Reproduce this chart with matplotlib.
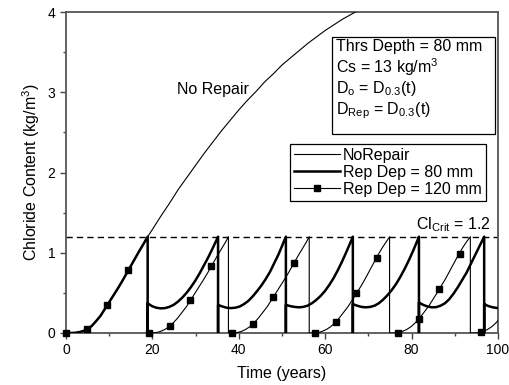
import matplotlib
matplotlib.use("Agg")
import matplotlib.pyplot as plt
from matplotlib.lines import Line2D
from matplotlib.patches import Rectangle
from matplotlib.ticker import MultipleLocator

plt.rcParams['font.family'] = ['Liberation Sans', 'DejaVu Sans']
plt.rcParams['mathtext.fontset'] = 'custom'
plt.rcParams['mathtext.rm'] = 'Liberation Sans'
plt.rcParams['mathtext.it'] = 'Liberation Sans:italic'

# ---- chloride content at the threshold depth (kg/m^3) vs time (years) ----
norepair_time = [0, 1, 2, 3, 4, 5, 6, 7, 8, 9, 10, 11, 12, 13, 14, 15, 16, 17, 18, 18.9,
                 20, 22, 24, 26, 28, 30, 32, 34, 36, 38, 40, 42, 44, 46, 48, 50,
                 52, 54, 56, 58, 60, 62, 64, 66, 68]
norepair_chloride = [0, 0, 0.002, 0.01, 0.025, 0.048, 0.09, 0.15, 0.215, 0.30, 0.385, 0.47,
                     0.555, 0.645, 0.74, 0.835, 0.93, 1.025, 1.115, 1.2,
                     1.29, 1.46, 1.62, 1.79, 1.94, 2.09, 2.24, 2.38, 2.52, 2.65, 2.78, 2.90,
                     3.01, 3.13, 3.23, 3.34, 3.43, 3.52, 3.61, 3.69, 3.77, 3.84, 3.91, 3.97, 4.03]

# repair depth 80 mm: repairs at 18.9, 35.2, 50.9, 66.4, 81.7, 96.8 years
rep80_time = [
    0, 1, 2, 3, 4, 5, 6, 7, 8, 9, 10, 11, 12, 13, 14, 15, 16, 17, 18, 18.9, 18.9,
    18.9, 19.9, 20.9, 21.9, 22.9, 23.9, 24.9, 25.9, 26.9, 27.9, 28.9, 29.9, 30.9, 31.9, 32.9, 33.9, 34.9, 35.2, 35.2,
    35.2, 36.2, 37.2, 38.2, 39.2, 40.2, 41.2, 42.2, 43.2, 44.2, 45.2, 46.2, 47.2, 48.2, 49.2, 50.2, 50.9, 50.9,
    50.9, 51.9, 52.9, 53.9, 54.9, 55.9, 56.9, 57.9, 58.9, 59.9, 60.9, 61.9, 62.9, 63.9, 64.9, 65.9, 66.4, 66.4,
    66.4, 67.4, 68.4, 69.4, 70.4, 71.4, 72.4, 73.4, 74.4, 75.4, 76.4, 77.4, 78.4, 79.4, 80.4, 81.4, 81.7, 81.7,
    81.7, 82.7, 83.7, 84.7, 85.7, 86.7, 87.7, 88.7, 89.7, 90.7, 91.7, 92.7, 93.7, 94.7, 95.7, 96.7, 96.8, 96.8,
    96.8, 97.8, 98.8, 100]
rep80_chloride = [
    0, 0, 0.002, 0.01, 0.025, 0.048, 0.09, 0.15, 0.215, 0.30, 0.385, 0.47, 0.555, 0.645, 0.74, 0.835, 0.93, 1.025, 1.115, 1.2, 0,
    0.37, 0.335, 0.315, 0.307, 0.31, 0.325, 0.35, 0.39, 0.44, 0.50, 0.57, 0.65, 0.74, 0.84, 0.94, 1.05, 1.165, 1.2, 0,
    0.35, 0.33, 0.315, 0.31, 0.315, 0.33, 0.36, 0.40, 0.455, 0.52, 0.59, 0.67, 0.76, 0.87, 0.98, 1.11, 1.2, 0,
    0.35, 0.335, 0.325, 0.32, 0.325, 0.34, 0.37, 0.41, 0.46, 0.52, 0.595, 0.68, 0.78, 0.89, 1.01, 1.135, 1.2, 0,
    0.36, 0.34, 0.325, 0.32, 0.325, 0.34, 0.37, 0.415, 0.47, 0.535, 0.61, 0.70, 0.80, 0.91, 1.03, 1.16, 1.2, 0,
    0.38, 0.35, 0.33, 0.32, 0.322, 0.34, 0.37, 0.42, 0.49, 0.57, 0.66, 0.75, 0.86, 0.97, 1.08, 1.19, 1.2, 0,
    0.36, 0.335, 0.32, 0.31]

# repair depth 120 mm: repairs at 18.9, 37.6, 56.3, 74.9, 93.6 years
rep120_time = [
    0, 1, 2, 3, 4, 5, 6, 7, 8, 9, 10, 11, 12, 13, 14, 15, 16, 17, 18, 18.9, 18.9,
    18.9, 19.9, 20.9, 21.9, 22.9, 23.9, 24.9, 25.9, 26.9, 27.9, 28.9, 29.9, 30.9, 31.9, 32.9, 33.9, 34.9, 35.9, 36.9, 37.6, 37.6,
    37.6, 38.6, 39.6, 40.6, 41.6, 42.6, 43.6, 44.6, 45.6, 46.6, 47.6, 48.6, 49.6, 50.6, 51.6, 52.6, 53.6, 54.6, 55.6, 56.3, 56.3,
    56.3, 57.3, 58.3, 59.3, 60.3, 61.3, 62.3, 63.3, 64.3, 65.3, 66.3, 67.3, 68.3, 69.3, 70.3, 71.3, 72.3, 73.3, 74.3, 74.9, 74.9,
    74.9, 75.9, 76.9, 77.9, 78.9, 79.9, 80.9, 81.9, 82.9, 83.9, 84.9, 85.9, 86.9, 87.9, 88.9, 89.9, 90.9, 91.9, 92.9, 93.6, 93.6,
    93.6, 94.6, 95.6, 96.6, 97.6, 98.6, 99.6, 100]
rep120_chloride = [
    0, 0, 0.002, 0.01, 0.025, 0.048, 0.09, 0.15, 0.215, 0.30, 0.385, 0.47, 0.555, 0.645, 0.74, 0.835, 0.93, 1.025, 1.115, 1.2, 0,
    0, 0, 0.005, 0.02, 0.045, 0.08, 0.13, 0.19, 0.26, 0.33, 0.415, 0.50, 0.585, 0.67, 0.76, 0.855, 0.95, 1.04, 1.13, 1.2, 0,
    0, 0, 0.005, 0.02, 0.045, 0.08, 0.13, 0.19, 0.26, 0.33, 0.415, 0.50, 0.585, 0.67, 0.76, 0.855, 0.95, 1.04, 1.13, 1.2, 0,
    0, 0, 0.005, 0.02, 0.045, 0.08, 0.13, 0.19, 0.26, 0.33, 0.415, 0.50, 0.585, 0.68, 0.78, 0.88, 0.98, 1.07, 1.15, 1.2, 0,
    0, 0, 0.005, 0.02, 0.045, 0.08, 0.13, 0.19, 0.26, 0.33, 0.415, 0.50, 0.59, 0.68, 0.78, 0.88, 0.98, 1.07, 1.15, 1.2, 0,
    0, 0, 0.005, 0.02, 0.045, 0.08, 0.13, 0.155]

# symbols on the 120 mm series
rep120_marker_time = [0, 4.8, 9.6, 14.4, 19.2, 24.0, 28.8, 33.6, 38.4, 43.2, 48.0,
                      52.8, 57.6, 62.4, 67.2, 72.0, 76.8, 81.6, 86.4, 91.2, 96.0]
rep120_marker_chloride = [0, 0.045, 0.35, 0.78, 0, 0.085, 0.41, 0.83, 0, 0.11, 0.45,
                          0.875, 0, 0.135, 0.50, 0.94, 0, 0.17, 0.55, 0.99, 0.01]

cl_crit = 1.2

x_ticks = [0, 20, 40, 60, 80, 100]
y_ticks = [0, 1, 2, 3, 4]

fig = plt.figure(figsize=(5.10, 3.85), dpi=100)
ax = fig.add_axes([66 / 510, 1 - 333 / 385, 432 / 510, 321 / 385])

ax.plot(norepair_time, norepair_chloride, color='black', lw=0.8, zorder=3)
ax.plot(rep120_time, rep120_chloride, color='black', lw=0.8, zorder=3)
ax.plot(rep120_marker_time, rep120_marker_chloride, ls='none', marker='s', ms=4.4,
        color='black', zorder=4, clip_on=False)
ax.plot(rep80_time, rep80_chloride, color='black', lw=1.8, zorder=5)
ax.axhline(cl_crit, color='black', lw=1.0, ls=(0, (4.5, 3)), zorder=2)

ax.set_xlim(0, 100)
ax.set_ylim(0, 4)
ax.set_xticks(x_ticks)
ax.set_yticks(y_ticks)
ax.xaxis.set_minor_locator(MultipleLocator(10))
ax.yaxis.set_minor_locator(MultipleLocator(0.5))
ax.tick_params(which='both', direction='out', labelsize=10, color='#444444')
ax.tick_params(which='major', length=4, width=1.0)
ax.tick_params(which='minor', length=2.5, width=1.0)
for sp in ax.spines.values():
    sp.set_color('#555555')
    sp.set_linewidth(1.3)

ax.set_xlabel('Time (years)', fontsize=11.5, labelpad=6)
ax.set_ylabel('Chloride Content (kg/m$^3$)', fontsize=11.5, labelpad=4)

ax.text(33.9, 3.04, 'No Repair', fontsize=11.5, ha='center', va='center')
ax.text(98.2, 1.29, r'Cl$_\mathregular{Crit}$ = 1.2', fontsize=11.5, ha='right', va='baseline')

# parameter box
ax.add_patch(Rectangle((0.615, 0.62), 0.378, 0.303, transform=ax.transAxes,
                       facecolor='white', edgecolor='black', lw=0.9, zorder=6))
box_lines = ['Thrs Depth = 80 mm',
             'Cs = 13 kg/m$^3$',
             r'D$_\mathregular{o}$ = D$_\mathregular{0.3}$(t)',
             r'D$_\mathregular{Rep}$ = D$_\mathregular{0.3}$(t)']
for yy, s in zip([0.892, 0.828, 0.762, 0.692], box_lines):
    ax.text(0.624, yy, s, transform=ax.transAxes, fontsize=11.5, ha='left',
            va='center', zorder=7)

handles = [Line2D([], [], color='black', lw=0.8),
           Line2D([], [], color='black', lw=1.8),
           Line2D([], [], color='black', lw=0.8, marker='s', ms=4.4)]
labels = ['NoRepair', 'Rep Dep = 80 mm', 'Rep Dep = 120 mm']
leg = ax.legend(handles, labels, loc='upper right', bbox_to_anchor=(0.972, 0.589),
                fontsize=11.5, handlelength=2.9, handletextpad=0.2, borderpad=0.25,
                labelspacing=0.12, borderaxespad=0, frameon=True, fancybox=False,
                framealpha=1, edgecolor='black')
leg.get_frame().set_linewidth(0.9)
leg.set_zorder(8)

fig.savefig('out.png', dpi=100)
